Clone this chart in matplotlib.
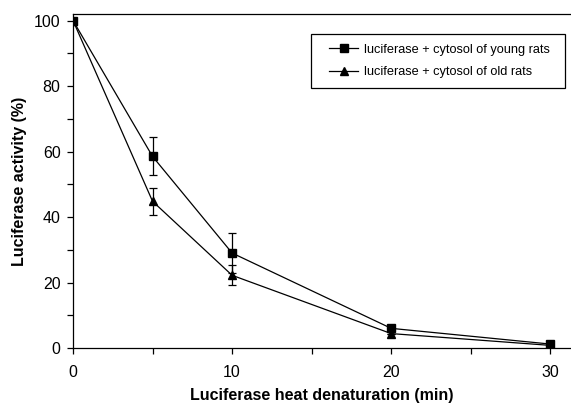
import matplotlib
matplotlib.use("Agg")
import matplotlib.pyplot as plt
from matplotlib.ticker import MultipleLocator
from matplotlib.lines import Line2D
from matplotlib.legend_handler import HandlerLine2D

plt.rcParams['font.family'] = ['Liberation Sans', 'DejaVu Sans']

time_min = [0, 5, 10, 20, 30]
young = [100, 58.5, 29.0, 6.0, 1.2]
young_err = [0, 5.8, 6.0, 0, 0]
old = [100, 44.8, 22.2, 4.4, 0.8]
old_err = [0, 4.2, 3.0, 0, 0]
labels = ["luciferase + cytosol of young rats", "luciferase + cytosol of old rats"]
markers = ['s', '^']

fig = plt.figure(figsize=(5.71, 4.08), dpi=100)
ax = fig.add_axes([73/571, 60/408, 1 - 73/571, (348 - 14)/408])

for vals, errs, m, lab in zip([young, old], [young_err, old_err], markers, labels):
    ax.errorbar(time_min, vals, yerr=errs, color='black', marker=m, markersize=5.5,
                linewidth=0.9, elinewidth=0.9, capsize=3, capthick=0.9, label=lab)

ax.set_xlim(0, 31.3)
ax.set_ylim(0, 102)
ax.xaxis.set_major_locator(MultipleLocator(10))
ax.xaxis.set_minor_locator(MultipleLocator(5))
ax.yaxis.set_major_locator(MultipleLocator(20))
ax.yaxis.set_minor_locator(MultipleLocator(10))
ax.tick_params(which='both', direction='out', width=0.9, labelsize=11.5, length=4)
ax.tick_params(axis='x', pad=8)
ax.tick_params(axis='y', pad=5)
ax.spines['right'].set_visible(False)
for s in ['top', 'left', 'bottom']:
    ax.spines[s].set_linewidth(0.9)

ax.set_xlabel("Luciferase heat denaturation (min)", fontsize=11.5, fontweight='bold', labelpad=6)
ax.set_ylabel("Luciferase activity (%)", fontsize=11.5, fontweight='bold', labelpad=5)

fs = 9.2
handles = [Line2D([], [], color='black', marker=m, markersize=5.5, linewidth=0.9) for m in markers]
x0 = (311 - 73) / 498
x1 = (565 - 73) / 498
ytop = (348 - 34) / 334
leg = ax.legend(handles, labels, loc='upper left', bbox_to_anchor=(x0, ytop - 0.2, x1 - x0, 0.2),
                mode='expand', fontsize=fs, frameon=True, fancybox=False, edgecolor='black',
                framealpha=1, borderpad=0.75, handlelength=2.95, labelspacing=0.85,
                handletextpad=0.45, borderaxespad=0,
                handler_map={Line2D: HandlerLine2D(xpad=0.65)})
leg.get_frame().set_linewidth(0.9)

fig.savefig("out.png", dpi=100)
